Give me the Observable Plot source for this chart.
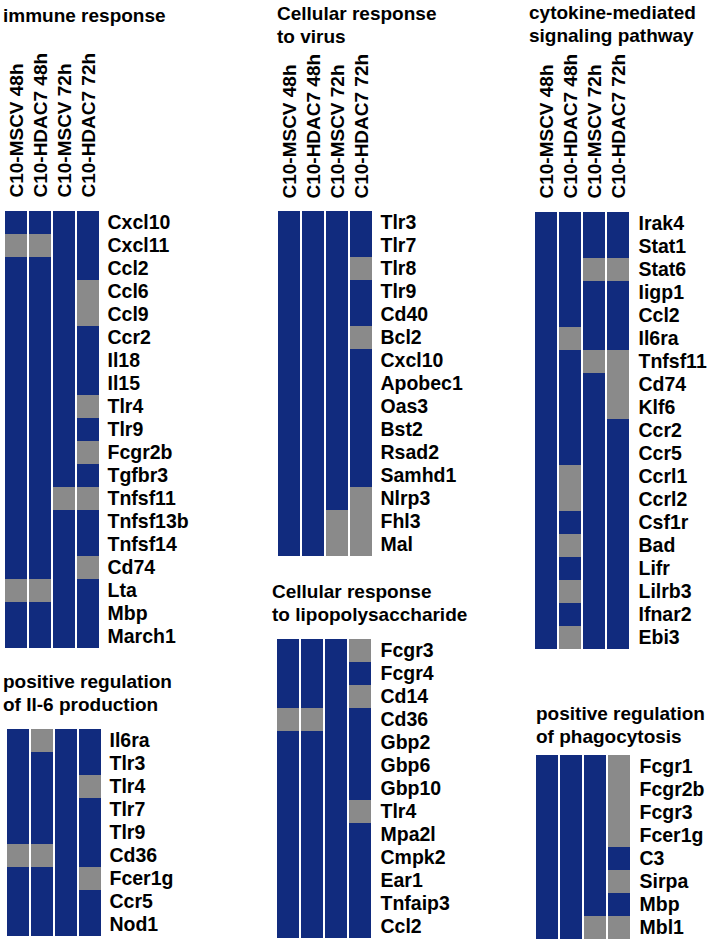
<!DOCTYPE html>
<html><head><meta charset="utf-8">
<script src="https://cdn.jsdelivr.net/npm/d3@7"></script>
<script src="https://cdn.jsdelivr.net/npm/@observablehq/plot@0.6"></script>
<style>
body{margin:0;background:#fff;}
#chart{position:relative;width:709px;height:944px;overflow:hidden;font-family:"Liberation Sans",Arial,sans-serif;}
.title{position:absolute;font-weight:bold;font-size:19px;line-height:23px;white-space:nowrap;color:#000;z-index:2}
.panel{position:absolute;z-index:1}
</style></head><body><div id="chart"></div>
<script>
// 1 = regulated (blue), 0 = not (gray)
const conditions = ["C10-MSCV 48h", "C10-HDAC7 48h", "C10-MSCV 72h", "C10-HDAC7 72h"];

const immuneTitle = ["immune response"];
const immuneGenes = ["Cxcl10","Cxcl11","Ccl2","Ccl6","Ccl9","Ccr2","Il18","Il15","Tlr4","Tlr9","Fcgr2b","Tgfbr3","Tnfsf11","Tnfsf13b","Tnfsf14","Cd74","Lta","Mbp","March1"];
const immuneValues = [[1,1,1,1],[0,0,1,1],[1,1,1,1],[1,1,1,0],[1,1,1,0],[1,1,1,1],[1,1,1,1],[1,1,1,1],[1,1,1,0],[1,1,1,1],[1,1,1,0],[1,1,1,1],[1,1,0,0],[1,1,1,1],[1,1,1,1],[1,1,1,0],[0,0,1,1],[1,1,1,1],[1,1,1,1]];

const il6Title = ["positive regulation", "of Il-6 production"];
const il6Genes = ["Il6ra","Tlr3","Tlr4","Tlr7","Tlr9","Cd36","Fcer1g","Ccr5","Nod1"];
const il6Values = [[1,0,1,1],[1,1,1,1],[1,1,1,0],[1,1,1,1],[1,1,1,1],[0,0,1,1],[1,1,1,0],[1,1,1,1],[1,1,1,1]];

const virusTitle = ["Cellular response", "to virus"];
const virusGenes = ["Tlr3","Tlr7","Tlr8","Tlr9","Cd40","Bcl2","Cxcl10","Apobec1","Oas3","Bst2","Rsad2","Samhd1","Nlrp3","Fhl3","Mal"];
const virusValues = [[1,1,1,1],[1,1,1,1],[1,1,1,0],[1,1,1,1],[1,1,1,1],[1,1,1,0],[1,1,1,1],[1,1,1,1],[1,1,1,1],[1,1,1,1],[1,1,1,1],[1,1,1,1],[1,1,1,0],[1,1,0,0],[1,1,0,0]];

const lpsTitle = ["Cellular response", "to lipopolysaccharide"];
const lpsGenes = ["Fcgr3","Fcgr4","Cd14","Cd36","Gbp2","Gbp6","Gbp10","Tlr4","Mpa2l","Cmpk2","Ear1","Tnfaip3","Ccl2"];
const lpsValues = [[1,1,1,0],[1,1,1,1],[1,1,1,0],[0,0,1,1],[1,1,1,1],[1,1,1,1],[1,1,1,1],[1,1,1,0],[1,1,1,1],[1,1,1,1],[1,1,1,1],[1,1,1,1],[1,1,1,1]];

const cytoTitle = ["cytokine-mediated", "signaling pathway"];
const cytoGenes = ["Irak4","Stat1","Stat6","Iigp1","Ccl2","Il6ra","Tnfsf11","Cd74","Klf6","Ccr2","Ccr5","Ccrl1","Ccrl2","Csf1r","Bad","Lifr","Lilrb3","Ifnar2","Ebi3"];
const cytoValues = [[1,1,1,1],[1,1,1,1],[1,1,0,0],[1,1,1,1],[1,1,1,1],[1,0,1,1],[1,1,0,0],[1,1,1,0],[1,1,1,0],[1,1,1,1],[1,1,1,1],[1,0,1,1],[1,0,1,1],[1,1,1,1],[1,0,1,1],[1,1,1,1],[1,0,1,1],[1,1,1,1],[1,0,1,1]];

const phagoTitle = ["positive regulation", "of phagocytosis"];
const phagoGenes = ["Fcgr1","Fcgr2b","Fcgr3","Fcer1g","C3","Sirpa","Mbp","Mbl1"];
const phagoValues = [[1,1,1,0],[1,1,1,0],[1,1,1,0],[1,1,1,0],[1,1,1,1],[1,1,1,0],[1,1,1,1],[1,1,0,0]];

const BLUE = "#112b7e";
const GRAY = "#8a8a8a";
const ROW_H = 23.33;
const FONT = "'Liberation Sans', Arial, sans-serif";

const chart = document.getElementById("chart");

function panel({title, genes, values, gridLeft, gridRight, gridTop, titleLeft, titleTop, showX}) {
  const data = genes.flatMap((g, i) => conditions.map((c, j) => ({gene: g, condition: c, value: values[i][j]})));
  const marginTop = showX ? 200 : 1;
  const marginRight = 110;
  const gridW = gridRight - gridLeft;
  const gridH = ROW_H * genes.length;
  const svg = Plot.plot({
    width: gridW + marginRight,
    height: marginTop + gridH + 1,
    marginLeft: 0,
    marginRight,
    marginTop,
    marginBottom: 1,
    x: {domain: conditions, padding: 0, axis: null},
    y: {domain: genes, padding: 0, axis: null},
    color: {type: "ordinal", domain: [1, 0], range: [BLUE, GRAY]},
    style: {background: "transparent", fontFamily: FONT, fontWeight: "bold", fontSize: "19.5px", overflow: "visible", color: "#000"},
    marks: [
      Plot.cell(data, {x: "condition", y: "gene", fill: "value", insetLeft: 0.8, insetRight: 0.8, shapeRendering: "crispEdges"}),
      Plot.axisY({anchor: "right", tickSize: 0, tickPadding: 7, label: null, fontSize: 19.5}),
      showX ? Plot.axisX({anchor: "top", tickSize: 0, tickPadding: 11, tickRotate: -90, label: null, fontSize: 19}) : null
    ]
  });
  svg.classList.add("panel");
  svg.style.left = gridLeft + "px";
  svg.style.top = (gridTop - marginTop) + "px";
  svg.style.maxWidth = "none";
  chart.appendChild(svg);
  const t = document.createElement("div");
  t.className = "title";
  t.style.left = titleLeft + "px";
  t.style.top = titleTop + "px";
  t.innerHTML = title.join("<br>");
  chart.appendChild(t);
}

panel({title: immuneTitle, genes: immuneGenes, values: immuneValues, gridLeft: 3, gridRight: 100, gridTop: 208, titleLeft: 3, titleTop: 4, showX: true});
panel({title: il6Title, genes: il6Genes, values: il6Values, gridLeft: 5, gridRight: 102, gridTop: 728, titleLeft: 3, titleTop: 670, showX: false});
panel({title: virusTitle, genes: virusGenes, values: virusValues, gridLeft: 276, gridRight: 373, gridTop: 209, titleLeft: 277, titleTop: 2, showX: true});
panel({title: lpsTitle, genes: lpsGenes, values: lpsValues, gridLeft: 274, gridRight: 373, gridTop: 637, titleLeft: 272, titleTop: 580, showX: false});
panel({title: cytoTitle, genes: cytoGenes, values: cytoValues, gridLeft: 533, gridRight: 631, gridTop: 209, titleLeft: 529, titleTop: 1, showX: true});
panel({title: phagoTitle, genes: phagoGenes, values: phagoValues, gridLeft: 533, gridRight: 632, gridTop: 754, titleLeft: 536, titleTop: 702, showX: false});
</script>
</body></html>
